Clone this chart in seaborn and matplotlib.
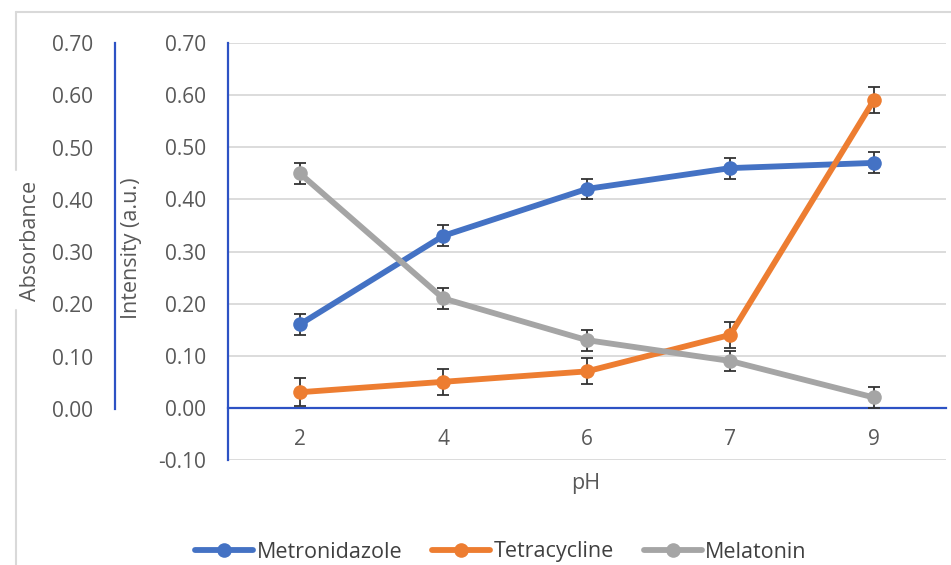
import matplotlib
matplotlib.use("Agg")
import matplotlib.pyplot as plt
import seaborn as sns
import pandas as pd
import numpy as np
from matplotlib.lines import Line2D

ph_labels = ["2", "4", "6", "7", "9"]
metronidazole = [0.16, 0.33, 0.42, 0.46, 0.47]
metronidazole_err = [0.02, 0.02, 0.02, 0.02, 0.02]
tetracycline = [0.03, 0.05, 0.07, 0.14, 0.59]
tetracycline_err = [0.027, 0.025, 0.025, 0.025, 0.025]
melatonin = [0.45, 0.21, 0.13, 0.09, 0.02]
melatonin_err = [0.02, 0.02, 0.02, 0.02, 0.02]

series_names = ["Metronidazole", "Tetracycline", "Melatonin"]
colors = ["#4472C4", "#ED7D31", "#A5A5A5"]
axis_blue = "#2D52C4"
grid_c = "#D9D9D9"
text_c = "#595959"

sns.set_style("white")
plt.rcParams["font.family"] = ["Open Sans", "DejaVu Sans"]

rows = []
for name, vals, errs in zip(series_names, [metronidazole, tetracycline, melatonin],
                            [metronidazole_err, tetracycline_err, melatonin_err]):
    for i, (v, e) in enumerate(zip(vals, errs)):
        rows.append({"pos": i, "pH": ph_labels[i], "value": v, "err": e, "series": name})
df = pd.DataFrame(rows)

W, H = 951, 565
fig = plt.figure(figsize=(W / 100, H / 100), dpi=100)
tick_fs = 15
lab_fs = 15.5

# main axes
x0, x1 = 228, 945.5
y_top, y_bot = 43, 460
ax = fig.add_axes([x0 / W, (H - y_bot) / H, (x1 - x0) / W, (y_bot - y_top) / H])
ax.set_xlim(-0.5, len(ph_labels) - 0.5)
ax.set_ylim(-0.10, 0.70)
yt = np.round(np.arange(-0.10, 0.701, 0.10), 2)
for v in yt:
    if abs(v) > 1e-9:
        ax.axhline(v, color=grid_c, lw=1.3, zorder=0)

for name, c in zip(series_names, colors):
    sub = df[df.series == name]
    ax.errorbar(sub["pos"], sub["value"], yerr=sub["err"], fmt="none",
                ecolor="#333333", elinewidth=1.3, capsize=4.5, capthick=1.3, zorder=2)

sns.lineplot(data=df, x="pos", y="value", hue="series", palette=colors,
             hue_order=series_names, marker="o", markersize=10.5, markeredgewidth=0,
             linewidth=4.2, ax=ax, legend=False, zorder=3)

ax.set_xticks(range(len(ph_labels)))
ax.set_xticklabels(ph_labels)
ax.set_yticks(yt)
ax.set_yticklabels([f"{v:.2f}" for v in yt])
ax.spines["bottom"].set_position(("data", 0))
ax.spines["bottom"].set_color(axis_blue)
ax.spines["bottom"].set_linewidth(1.6)
ax.spines["bottom"].set_zorder(1)
ax.tick_params(axis="x", length=0, pad=15, labelsize=tick_fs, labelcolor=text_c)
ax.tick_params(axis="y", length=0, pad=16, labelsize=tick_fs, labelcolor=text_c)
for s in ["top", "right"]:
    ax.spines[s].set_visible(False)
ax.spines["left"].set_color(axis_blue)
ax.spines["left"].set_linewidth(1.6)
ax.set_xlabel("pH", fontsize=lab_fs, color=text_c)
ax.xaxis.set_label_coords(586 / W, 1 - 484 / H, transform=fig.transFigure)
ax.xaxis.label.set_va("center")
ax.set_ylabel("Intensity (a.u.)", fontsize=lab_fs, color=text_c)
ax.yaxis.set_label_coords(131 / W, 1 - 248 / H, transform=fig.transFigure)
ax.yaxis.label.set_va("center")

# secondary (outer) absorbance axis
ox = 115
oy_top, oy_bot = 43, 409
ax2 = fig.add_axes([ox / W, (H - oy_bot) / H, 0.001, (oy_bot - oy_top) / H])
ax2.set_ylim(0.0, 0.70)
yt2 = np.round(np.arange(0.0, 0.701, 0.10), 2)
ax2.set_yticks(yt2)
ax2.set_yticklabels([f"{v:.2f}" for v in yt2])
ax2.set_xticks([])
ax2.patch.set_alpha(0)
for s in ["top", "right", "bottom"]:
    ax2.spines[s].set_visible(False)
ax2.spines["left"].set_color(axis_blue)
ax2.spines["left"].set_linewidth(1.6)
ax2.tick_params(axis="y", direction="in", length=3, width=1, color="#BFBFBF",
                pad=16, labelsize=tick_fs, labelcolor=text_c)
ax2.set_ylabel("Absorbance", fontsize=lab_fs, color=text_c)
ax2.yaxis.set_label_coords(30 / W, 1 - 241 / H, transform=fig.transFigure)
ax2.yaxis.label.set_va("center")

# frame border
fig.add_artist(Line2D([16 / W, 1], [1 - 12 / H, 1 - 12 / H], color=grid_c, lw=1.5))
fig.add_artist(Line2D([16 / W, 16 / W], [1 - 12 / H, 1 - 170 / H], color=grid_c, lw=1.5))
fig.add_artist(Line2D([16 / W, 16 / W], [1 - 310 / H, 0], color=grid_c, lw=1.5))

# legend
handles = [Line2D([0], [0], color=c, lw=4.2, marker="o", markersize=10.5, markeredgewidth=0)
           for c in colors]
fig.legend(handles, series_names, loc="center", bbox_to_anchor=(501 / W, 1 - 552 / H),
           ncol=3, frameon=False, fontsize=lab_fs, handlelength=2.7, handletextpad=0.15,
           columnspacing=1.4, labelcolor="#404040", borderpad=0, borderaxespad=0)

fig.savefig("out.png", dpi=100)
